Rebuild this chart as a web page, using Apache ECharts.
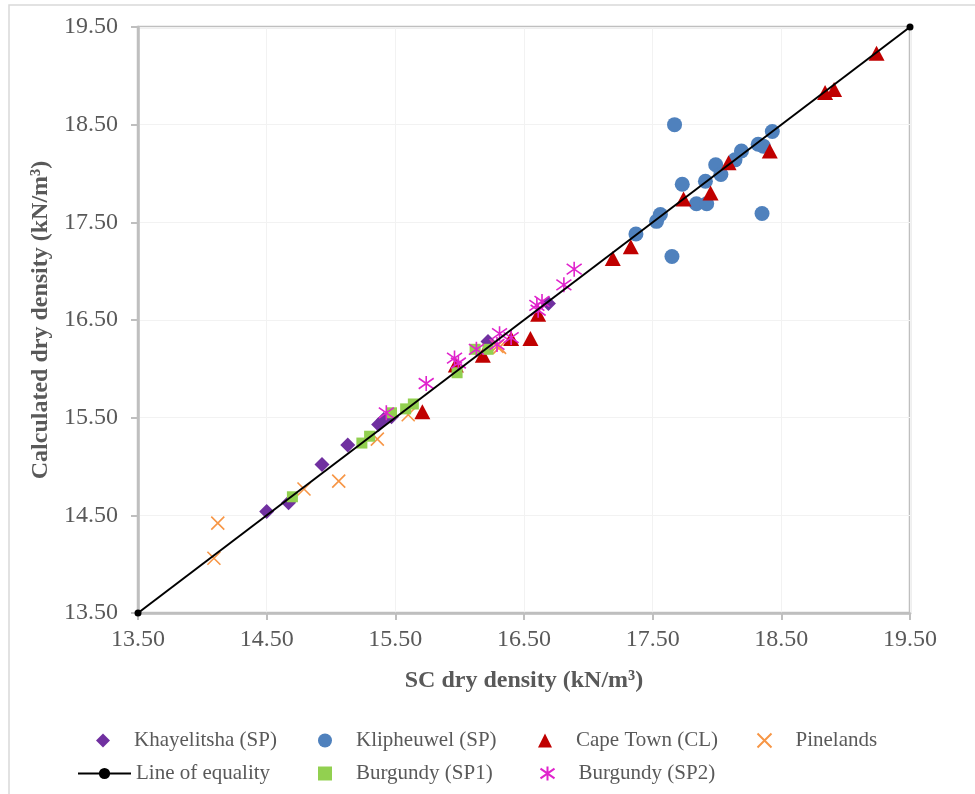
<!DOCTYPE html>
<html>
<head>
<meta charset="utf-8">
<script src="https://cdn.jsdelivr.net/npm/echarts@6/dist/echarts.min.js"></script>
<style>
  html, body { margin: 0; padding: 0; background: #ffffff; }
  #chart { width: 975px; height: 794px; }
</style>
</head>
<body>
<div id="chart"></div>
<script>
// Axis range and ticks (kN/m³)
const axisMin = 13.5;
const axisMax = 19.5;
const axisStep = 1.0;

// [SC dry density, calculated dry density] pairs per site
const khayelitsha = [
  [14.50, 14.54], [14.67, 14.63], [14.93, 15.02], [15.13, 15.22], [15.37, 15.43],
  [15.41, 15.48], [15.47, 15.51], [16.22, 16.28], [16.69, 16.67]
];
const klipheuwel = [
  [17.67, 18.50], [18.43, 18.43], [18.32, 18.30], [18.36, 18.28], [18.19, 18.23],
  [18.14, 18.14], [17.99, 18.09], [18.03, 17.99], [17.91, 17.92], [17.73, 17.89],
  [17.84, 17.69], [17.92, 17.69], [18.35, 17.59], [17.56, 17.58], [17.53, 17.51],
  [17.37, 17.38], [17.65, 17.15]
];
const capeTown = [
  [15.71, 15.56], [15.97, 16.04], [16.18, 16.14], [16.40, 16.31], [16.55, 16.31],
  [16.61, 16.56], [17.19, 17.13], [17.33, 17.25], [17.74, 17.74], [17.95, 17.80],
  [18.09, 18.11], [18.41, 18.23], [18.84, 18.83], [18.91, 18.86], [19.24, 19.23]
];
const pinelands = [
  [14.12, 14.42], [14.09, 14.06], [14.79, 14.77], [15.06, 14.85], [15.36, 15.28],
  [15.60, 15.53], [16.29, 16.23], [16.31, 16.22]
];
const equalityLine = [[13.5, 13.5], [19.5, 19.5]];
const burgundySP1 = [
  [14.70, 14.69], [15.24, 15.24], [15.30, 15.31], [15.47, 15.55], [15.58, 15.59],
  [15.64, 15.64], [15.98, 15.96], [16.12, 16.20], [16.22, 16.20]
];
const burgundySP2 = [
  [15.43, 15.55], [15.74, 15.85], [15.96, 16.11], [15.99, 16.06], [16.13, 16.20],
  [16.29, 16.25], [16.31, 16.36], [16.40, 16.32], [16.60, 16.65], [16.64, 16.69],
  [16.61, 16.60], [16.81, 16.86], [16.89, 17.02]
];

const seriesNames = [
  'Khayelitsha (SP)', 'Klipheuwel (SP)', 'Cape Town (CL)', 'Pinelands',
  'Line of equality', 'Burgundy (SP1)', 'Burgundy (SP2)'
];

const textGrey = '#595959';
const axisGrey = '#bfbfbf';
const serif = '"Liberation Serif", "Times New Roman", serif';

const crossPath = 'path://M0,0 L10,10 M10,0 L0,10';
const starPath = 'path://M0,1.5 L10,8.5 M10,1.5 L0,8.5 M5,0 L5,10';

const chart = echarts.init(document.getElementById('chart'), null, { renderer: 'canvas' });

function axis(nameText, isX) {
  return {
    type: 'value',
    min: axisMin,
    max: axisMax,
    interval: axisStep,
    name: nameText,
    nameLocation: 'middle',
    nameGap: isX ? 56 : 84,
    nameTextStyle: {
      fontFamily: serif, fontWeight: 'bold', fontSize: 24, color: textGrey
    },
    axisLine: { show: true, lineStyle: { color: axisGrey, width: 2.5 } },
    axisTick: { show: true, length: 7, lineStyle: { color: axisGrey, width: 2 } },
    axisLabel: {
      fontFamily: serif, fontSize: 24, color: textGrey, margin: isX ? 15 : 20,
      formatter: v => v.toFixed(2)
    },
    splitLine: { show: true, lineStyle: { color: '#f2f2f2', width: 1 } }
  };
}

// one legend per entry so the two rows line up in fixed columns
function legendItem(name, markerX, top, lineIcon) {
  const w = lineIcon ? 53 : 14;
  const left = lineIcon ? markerX - 26 : markerX - 7;
  const textPad = lineIcon ? 0 : 19;
  return {
    data: [name],
    left: left,
    top: top,
    padding: 0,
    orient: 'horizontal',
    itemWidth: w,
    itemHeight: 14,
    itemGap: 0,
    selectedMode: false,
    textStyle: {
      fontFamily: serif, fontSize: 21, color: textGrey,
      padding: [0, 0, 0, textPad]
    }
  };
}

const option = {
  backgroundColor: '#ffffff',
  animation: false,
  graphic: [{
    type: 'rect',
    shape: { x: 9, y: 5, width: 1000, height: 1000 },
    style: { fill: 'none', stroke: '#d9d9d9', lineWidth: 1.5 },
    silent: true
  }],
  grid: {
    left: 138, right: 65, top: 27, bottom: 181,
    show: true, borderColor: axisGrey, borderWidth: 2.5, backgroundColor: 'transparent'
  },
  xAxis: axis('SC dry density (kN/m³)', true),
  yAxis: axis('Calculated dry density (kN/m³)', false),
  legend: [
    legendItem(seriesNames[0], 103, 730),
    legendItem(seriesNames[1], 325, 730),
    legendItem(seriesNames[2], 545, 730),
    legendItem(seriesNames[3], 762, 730),
    legendItem(seriesNames[4], 103, 763, true),
    legendItem(seriesNames[5], 325, 763),
    legendItem(seriesNames[6], 545, 763)
  ],
  series: [
    {
      name: seriesNames[0], type: 'scatter', data: khayelitsha,
      symbol: 'diamond', symbolSize: 15,
      itemStyle: { color: '#7030A0', opacity: 1 }
    },
    {
      name: seriesNames[1], type: 'scatter', data: klipheuwel,
      symbol: 'circle', symbolSize: 15,
      itemStyle: { color: '#4F81BD', opacity: 1 }
    },
    {
      name: seriesNames[2], type: 'scatter', data: capeTown,
      symbol: 'triangle', symbolSize: [16, 15],
      itemStyle: { color: '#C00000', opacity: 1 }
    },
    {
      name: seriesNames[3], type: 'scatter', data: pinelands,
      symbol: crossPath, symbolSize: 13,
      itemStyle: { color: 'none', borderColor: '#F79646', borderWidth: 1.6, opacity: 1 }
    },
    {
      name: seriesNames[4], type: 'line', data: equalityLine,
      symbol: 'circle', symbolSize: 7, showSymbol: true,
      lineStyle: { color: '#000000', width: 2 },
      itemStyle: { color: '#000000' }
    },
    {
      name: seriesNames[5], type: 'scatter', data: burgundySP1,
      symbol: 'rect', symbolSize: 11,
      itemStyle: { color: '#92D050', opacity: 1 }
    },
    {
      name: seriesNames[6], type: 'scatter', data: burgundySP2,
      symbol: starPath, symbolSize: 15,
      itemStyle: { color: 'none', borderColor: '#E023CC', borderWidth: 1.6, opacity: 1 }
    }
  ]
};

chart.setOption(option);
</script>
</body>
</html>
